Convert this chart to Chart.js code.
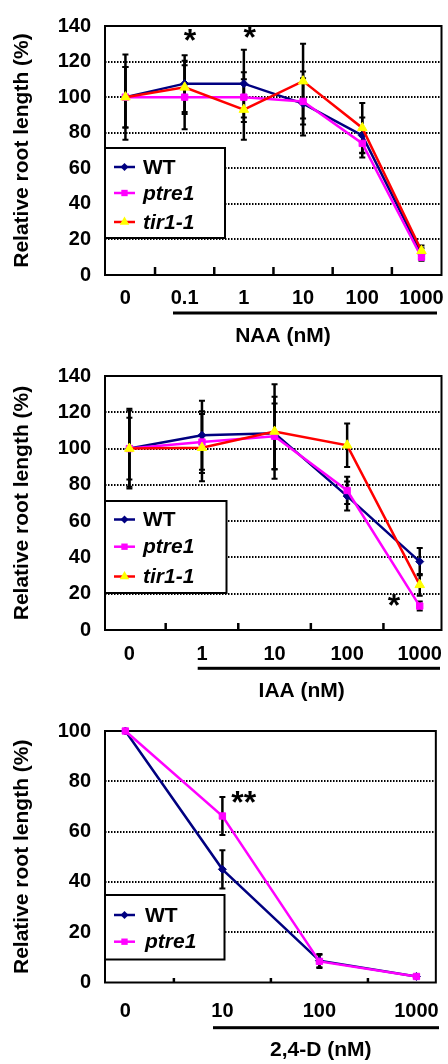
<!DOCTYPE html>
<html><head><meta charset="utf-8">
<style>
html,body{margin:0;padding:0;background:#fff;}
#wrap{position:relative;width:448px;height:1064px;overflow:hidden;background:#fff;}
canvas{position:absolute;left:0;}
</style>
<script src="https://cdn.jsdelivr.net/npm/chart.js"></script>
</head><body>
<div id="wrap">
<canvas id="c1" width="448" height="350" style="top:0px;width:448px;height:350px"></canvas>
<canvas id="c2" width="448" height="355" style="top:350px;width:448px;height:355px"></canvas>
<canvas id="c3" width="448" height="359" style="top:705px;width:448px;height:359px"></canvas>
</div>
<script>
// ---------- data ----------
const seriesNames = ['WT', 'ptre1', 'tir1-1'];
const yTitle = 'Relative root length (%)';

const naaDoses = ['0', '0.1', '1', '10', '100', '1000'];
const naaWT = [100, 107.6, 107.6, 96.4, 78.5, 12];
const naaWTErr = [24, 16, 19, 18, 10, 3];
const naaPtre = [100, 100, 100, 97.6, 74, 10];
const naaPtreErr = [17, 18, 14, 13, 8, 2];
const naaTir = [100, 105.5, 93, 109, 82.7, 13.6];
const naaTirErr = [17, 15, 17, 21, 14, 3];
const naaStarText = ['*', '*'];
const naaStarX = [1.09, 2.1];
const naaStarY = [130.7, 132.4];

const iaaDoses = ['0', '1', '10', '100', '1000'];
const iaaWT = [100, 107.3, 108.5, 73.8, 37.7];
const iaaWTErr = [22, 19, 20, 8, 7.5];
const iaaPtre = [100, 103.6, 106.8, 76.9, 13.2];
const iaaPtreErr = [17, 17, 18, 7.5, 2.5];
const iaaTir = [100, 100.5, 109.4, 101.8, 24.9];
const iaaTirErr = [21, 18.5, 26, 12, 6];
const iaaStarText = ['*'];
const iaaStarX = [3.645];
const iaaStarY = [11.9];

const dDoses = ['0', '10', '100', '1000'];
const dWT = [100, 45, 8.7, 2.4];
const dWTErr = [0, 7.6, 2.6, 0.6];
const dPtre = [100, 66.2, 8.4, 2.4];
const dPtreErr = [0, 7.6, 2.6, 0.6];
const dStarText = ['**'];
const dStarX = [1.22];
const dStarY = [70.4];

// ---------- styles ----------
const FONT = '"Liberation Sans", Arial, Helvetica, sans-serif';
Chart.defaults.font.family = FONT;
Chart.defaults.color = '#000';

const STYLE = {
  'WT':     {color: '#000080', fill: '#000080', shape: 'rectRot', r: 4, italic: false, order: 2},
  'ptre1':  {color: '#FF00FF', fill: '#FF00FF', shape: 'rect', r: 4.5, italic: true, order: 1},
  'tir1-1': {color: '#FF0000', fill: '#FFFF00', shape: 'triangle', r: 5.5, italic: true, order: 0}
};

function drawMarker(ctx, shape, x, y, r, fill) {
  ctx.save();
  ctx.fillStyle = fill;
  ctx.beginPath();
  if (shape === 'rect') {
    const s = r * Math.SQRT1_2;
    ctx.rect(x - s, y - s, 2 * s, 2 * s);
  } else if (shape === 'rectRot') {
    ctx.moveTo(x, y - r); ctx.lineTo(x + r, y); ctx.lineTo(x, y + r); ctx.lineTo(x - r, y); ctx.closePath();
  } else {
    ctx.moveTo(x, y - r);
    ctx.lineTo(x + r * Math.sin(Math.PI / 3), y + r * 0.5);
    ctx.lineTo(x - r * Math.sin(Math.PI / 3), y + r * 0.5);
    ctx.closePath();
  }
  ctx.fill();
  ctx.restore();
}

function makeDeco(cfg) {
  return {
    id: 'deco',
    beforeDatasetsDraw(chart) {
      const {ctx, chartArea: a, scales: {x, y}} = chart;
      ctx.save();
      ctx.strokeStyle = '#000';
      ctx.setLineDash([]);
      // error bars
      chart.data.datasets.forEach(ds => {
        ds.errorBars.forEach((e, i) => {
          if (!e) return;
          const v = ds.data[i].y;
          const px = x.getPixelForValue(i);
          const t = y.getPixelForValue(v + e), b = y.getPixelForValue(v - e);
          ctx.lineWidth = 2.5;
          ctx.beginPath(); ctx.moveTo(px, t); ctx.lineTo(px, b); ctx.stroke();
          ctx.lineWidth = 2;
          ctx.beginPath();
          ctx.moveTo(px - 3, t); ctx.lineTo(px + 3, t);
          ctx.moveTo(px - 3, b); ctx.lineTo(px + 3, b);
          ctx.stroke();
        });
      });
      // frame
      ctx.lineWidth = 2;
      ctx.strokeRect(a.left, a.top, a.right - a.left, a.bottom - a.top);
      // inner tick marks between categories
      ctx.lineWidth = 2.5;
      for (let i = 0; i < cfg.labels.length - 1; i++) {
        const px = x.getPixelForValue(i + 0.5);
        ctx.beginPath(); ctx.moveTo(px, a.bottom); ctx.lineTo(px, a.bottom - cfg.tickLen); ctx.stroke();
      }
      ctx.restore();
    },
    afterDatasetsDraw(chart) {
      const {ctx, scales: {x, y}} = chart;
      ctx.save();
      ctx.fillStyle = '#000';
      ctx.font = 'bold 32px ' + FONT;
      ctx.textAlign = 'center';
      ctx.textBaseline = 'alphabetic';
      cfg.starText.forEach((t, k) => {
        ctx.fillText(t, x.getPixelForValue(cfg.starX[k]), y.getPixelForValue(cfg.starY[k]) + 8);
      });
      ctx.restore();
    },
    afterDraw(chart) {
      const {ctx} = chart;
      const L = cfg.legend;
      ctx.save();
      ctx.setLineDash([]);
      // legend box
      ctx.fillStyle = '#fff';
      ctx.fillRect(L.x, L.y, L.w, L.h);
      ctx.strokeStyle = '#000'; ctx.lineWidth = 2;
      ctx.strokeRect(L.x, L.y, L.w, L.h);
      chart.data.datasets.forEach((ds, k) => {
        const st = STYLE[ds.label];
        const yy = L.rows[k];
        ctx.strokeStyle = st.color; ctx.lineWidth = 2.5;
        ctx.beginPath(); ctx.moveTo(L.x1, yy); ctx.lineTo(L.x2, yy); ctx.stroke();
        drawMarker(ctx, st.shape, (L.x1 + L.x2) / 2, yy, st.r, st.fill);
        ctx.fillStyle = '#000';
        ctx.font = (st.italic ? 'italic ' : '') + 'bold 21px ' + FONT;
        ctx.textAlign = 'left'; ctx.textBaseline = 'middle';
        ctx.fillText(ds.label, L.tx, yy + 1);
      });
      // bar under the non-zero doses
      ctx.fillStyle = '#000';
      ctx.fillRect(cfg.bar.x1, cfg.bar.y - 1.5, cfg.bar.x2 - cfg.bar.x1, 3);
      // x-axis title
      ctx.font = 'bold 21px ' + FONT;
      ctx.textAlign = 'center'; ctx.textBaseline = 'middle';
      ctx.fillText(cfg.xTitle, cfg.xTitleX, cfg.xTitleY);
      ctx.restore();
    }
  };
}

function buildPanel(id, cfg) {
  const canvas = document.getElementById(id);
  const H = canvas.height;
  const datasets = cfg.series.map(s => {
    const st = STYLE[s.name];
    return {
      label: s.name,
      data: s.values.map((v, i) => ({x: i, y: v})),
      errorBars: s.err,
      borderColor: st.color,
      backgroundColor: st.fill,
      pointBackgroundColor: st.fill,
      pointBorderColor: st.fill,
      pointBorderWidth: 1,
      pointStyle: st.shape,
      pointRadius: st.r,
      borderWidth: 2.5,
      tension: 0,
      clip: false,
      order: st.order
    };
  });
  return new Chart(canvas, {
    type: 'line',
    data: {datasets},
    plugins: [makeDeco(cfg)],
    options: {
      responsive: false,
      animation: false,
      devicePixelRatio: 1,
      events: [],
      layout: {padding: {top: cfg.padTop, right: 2, left: 0, bottom: 0}},
      plugins: {legend: {display: false}, tooltip: {enabled: false}},
      scales: {
        x: {
          type: 'linear',
          min: cfg.xMin, max: cfg.xMax,
          afterBuildTicks: s => { s.ticks = cfg.labels.map((_, i) => ({value: i})); },
          afterFit: s => { s.height = H - cfg.bottom; },
          grid: {display: false},
          border: {display: false},
          ticks: {
            autoSkip: false, maxRotation: 0, padding: cfg.tickPad,
            font: {size: 20, weight: 'bold'}, color: '#000',
            callback: v => cfg.labels[Math.round(v)]
          }
        },
        y: {
          min: 0, max: cfg.yMax,
          afterFit: s => { s.width = 105; },
          border: {display: false, dash: [1.5, 1.5]},
          grid: {
            drawTicks: false,
            color: c => (c.tick && (c.tick.value === 0 || c.tick.value === cfg.yMax)) ? 'rgba(0,0,0,0)' : '#000',
            lineWidth: 2
          },
          ticks: {stepSize: 20, padding: 14, font: {size: 20, weight: 'bold'}, color: '#000'},
          title: {display: true, text: yTitle, font: {size: 21, weight: 'bold'}, color: '#000', padding: {top: 10, bottom: 0}}
        }
      }
    }
  });
}

buildPanel('c1', {
  labels: naaDoses,
  series: [
    {name: seriesNames[0], values: naaWT, err: naaWTErr},
    {name: seriesNames[1], values: naaPtre, err: naaPtreErr},
    {name: seriesNames[2], values: naaTir, err: naaTirErr}
  ],
  yMax: 140, xMin: -0.345, xMax: 5.338,
  padTop: 18, bottom: 275, tickPad: 3.5, tickLen: 8,
  starText: naaStarText, starX: naaStarX, starY: naaStarY,
  legend: {x: 105, y: 148, w: 120, h: 90, rows: [167, 193, 222], x1: 114, x2: 135, tx: 143},
  bar: {x1: 173, x2: 437, y: 313},
  xTitle: 'NAA (nM)', xTitleX: 283, xTitleY: 336
});

buildPanel('c2', {
  labels: iaaDoses,
  series: [
    {name: seriesNames[0], values: iaaWT, err: iaaWTErr},
    {name: seriesNames[1], values: iaaPtre, err: iaaPtreErr},
    {name: seriesNames[2], values: iaaTir, err: iaaTirErr}
  ],
  yMax: 140, xMin: -0.336, xMax: 4.3,
  padTop: 17, bottom: 280, tickPad: 4.5, tickLen: 7,
  starText: iaaStarText, starX: iaaStarX, starY: iaaStarY,
  legend: {x: 105, y: 151, w: 121.5, h: 92, rows: [169.5, 196.7, 226.5], x1: 114, x2: 135, tx: 143},
  bar: {x1: 197.7, x2: 440, y: 318.3},
  xTitle: 'IAA (nM)', xTitleX: 301.7, xTitleY: 341.7
});

buildPanel('c3', {
  labels: dDoses,
  series: [
    {name: seriesNames[0], values: dWT, err: dWTErr},
    {name: seriesNames[1], values: dPtre, err: dPtreErr}
  ],
  yMax: 100, xMin: -0.21, xMax: 3.2,
  padTop: 15.5, bottom: 277.5, tickPad: 9, tickLen: 4.5,
  starText: dStarText, starX: dStarX, starY: dStarY,
  legend: {x: 105, y: 190, w: 119.5, h: 64.5, rows: [210, 236.7], x1: 114, x2: 135, tx: 145},
  bar: {x1: 213, x2: 439, y: 322.7},
  xTitle: '2,4-D (nM)', xTitleX: 320.7, xTitleY: 345.7
});
</script>
</body></html>
